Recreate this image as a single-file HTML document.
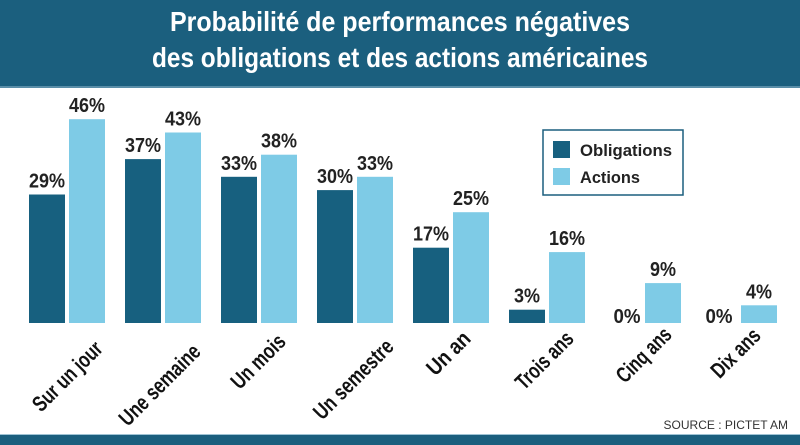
<!DOCTYPE html>
<html><head><meta charset="utf-8"><style>
html,body{margin:0;padding:0;background:#fff;}
svg{display:block;font-family:"Liberation Sans",sans-serif;}
</style></head><body>
<svg width="800" height="445" viewBox="0 0 800 445">
<rect x="0" y="0" width="800" height="86" fill="#1b5f7e"/>
<rect x="0" y="86" width="800" height="2" fill="#5a8ea8"/>
<g fill="#fff" font-weight="bold" font-size="28" text-anchor="middle">
<text x="400" y="31" textLength="460" lengthAdjust="spacingAndGlyphs">Probabilité de performances négatives</text>
<text x="400" y="67" textLength="496" lengthAdjust="spacingAndGlyphs">des obligations et des actions américaines</text>
</g>
<g fill="#17607f">
<rect x="29" y="194.5" width="36" height="128.5"/>
<rect x="125" y="159.1" width="36" height="163.9"/>
<rect x="221" y="176.8" width="36" height="146.2"/>
<rect x="317" y="190.1" width="36" height="132.9"/>
<rect x="413" y="247.7" width="36" height="75.3"/>
<rect x="509" y="309.7" width="36" height="13.3"/>
</g>
<g fill="#7ecbe6">
<rect x="69" y="119.2" width="36" height="203.8"/>
<rect x="165" y="132.5" width="36" height="190.5"/>
<rect x="261" y="154.7" width="36" height="168.3"/>
<rect x="357" y="176.8" width="36" height="146.2"/>
<rect x="453" y="212.2" width="36" height="110.8"/>
<rect x="549" y="252.1" width="36" height="70.9"/>
<rect x="645" y="283.1" width="36" height="39.9"/>
<rect x="741" y="305.3" width="36" height="17.7"/>
</g>
<g text-anchor="middle" font-weight="bold" font-size="20" fill="#222">
<text x="47" y="187.5" textLength="36" lengthAdjust="spacingAndGlyphs">29%</text>
<text x="87" y="112.2" textLength="36" lengthAdjust="spacingAndGlyphs">46%</text>
<text x="143" y="152.1" textLength="36" lengthAdjust="spacingAndGlyphs">37%</text>
<text x="183" y="125.5" textLength="36" lengthAdjust="spacingAndGlyphs">43%</text>
<text x="239" y="169.8" textLength="36" lengthAdjust="spacingAndGlyphs">33%</text>
<text x="279" y="147.7" textLength="36" lengthAdjust="spacingAndGlyphs">38%</text>
<text x="335" y="183.1" textLength="36" lengthAdjust="spacingAndGlyphs">30%</text>
<text x="375" y="169.8" textLength="36" lengthAdjust="spacingAndGlyphs">33%</text>
<text x="431" y="240.7" textLength="36" lengthAdjust="spacingAndGlyphs">17%</text>
<text x="471" y="205.2" textLength="36" lengthAdjust="spacingAndGlyphs">25%</text>
<text x="527" y="302.7" textLength="26" lengthAdjust="spacingAndGlyphs">3%</text>
<text x="567" y="245.1" textLength="36" lengthAdjust="spacingAndGlyphs">16%</text>
<text x="627" y="323" textLength="27" lengthAdjust="spacingAndGlyphs">0%</text>
<text x="663" y="276.1" textLength="26" lengthAdjust="spacingAndGlyphs">9%</text>
<text x="719" y="323" textLength="27" lengthAdjust="spacingAndGlyphs">0%</text>
<text x="759" y="298.3" textLength="26" lengthAdjust="spacingAndGlyphs">4%</text>
</g>
<g text-anchor="end" font-weight="bold" font-size="22" fill="#111">
<text transform="translate(104,350) rotate(-45)" textLength="89" lengthAdjust="spacingAndGlyphs">Sur un jour</text>
<text transform="translate(202,353) rotate(-45)" textLength="105" lengthAdjust="spacingAndGlyphs">Une semaine</text>
<text transform="translate(287,343) rotate(-45)" textLength="67" lengthAdjust="spacingAndGlyphs">Un mois</text>
<text transform="translate(395,348) rotate(-45)" textLength="103" lengthAdjust="spacingAndGlyphs">Un semestre</text>
<text transform="translate(472,340) rotate(-45)" textLength="52" lengthAdjust="spacingAndGlyphs">Un an</text>
<text transform="translate(575,340) rotate(-45)" textLength="72" lengthAdjust="spacingAndGlyphs">Trois ans</text>
<text transform="translate(673,336) rotate(-45)" textLength="68" lengthAdjust="spacingAndGlyphs">Cinq ans</text>
<text transform="translate(762,337) rotate(-45)" textLength="60" lengthAdjust="spacingAndGlyphs">Dix ans</text>
</g>
<rect x="543" y="130" width="140" height="65" fill="#fff" stroke="#1b5f7e" stroke-width="1.5"/>
<rect x="553" y="141" width="17" height="17" fill="#17607f"/>
<rect x="553" y="168" width="17" height="17" fill="#7ecbe6"/>
<g font-weight="bold" font-size="17" fill="#222">
<text x="580" y="156" textLength="92" lengthAdjust="spacingAndGlyphs">Obligations</text>
<text x="580" y="183" textLength="60" lengthAdjust="spacingAndGlyphs">Actions</text>
</g>
<text x="788" y="429" text-anchor="end" font-size="12" fill="#333">SOURCE : PICTET AM</text>
<rect x="0" y="434" width="800" height="1" fill="#9fc3d4"/>
<rect x="0" y="435" width="800" height="10" fill="#1b5f7e"/>
</svg>
</body></html>
